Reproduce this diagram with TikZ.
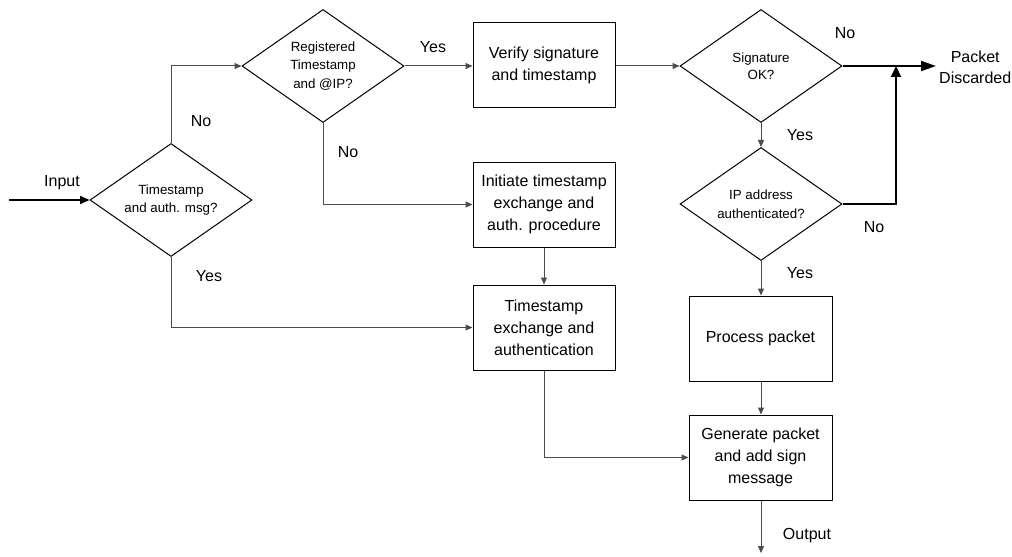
\documentclass[tikz,border=0pt]{standalone}
\usepackage{fontspec}
\setmainfont{Liberation Sans}
\usetikzlibrary{shapes.geometric,arrows.meta}
\begin{document}
\begin{tikzpicture}[x=0.75pt,y=-0.75pt,
  box/.style={draw=black, line width=0.75pt, minimum width=106.5pt,
    minimum height=63.75pt, align=center, inner sep=0pt,
    font=\fontsize{12}{16.5}\selectfont},
  decision/.style={draw=black, line width=0.75pt, shape=diamond, aspect=1.43,
    minimum width=121.5pt, minimum height=84.75pt, inner sep=0pt,
    align=center, font=\fontsize{10}{13.9}\selectfont},
  lbl/.style={inner sep=0pt, align=center, font=\fontsize{12}{15.5}\selectfont},
  conn/.style={draw=black!70, line width=0.75pt,
    -{Triangle[length=5.25pt,width=4.5pt]}},
  heavy/.style={draw=black, line width=1.5pt},
]
\useasboundingbox[fill=white] (0,0) rectangle (1012,556);

% decisions
\node[decision] (d1) at (171,200) {Timestamp\\and auth. msg?};
\node[decision] (d2) at (323,66) {Registered\\Timestamp\\and @IP?};
\node[decision] (d3) at (761,66) {\raisebox{-6pt}{\shortstack{Signature\\[1pt]OK?}}};
\node[decision] (d4) at (761,204) {IP address\\authenticated?};

% process boxes
\node[box] (verify) at (544,65.5) {Verify signature\\and timestamp};
\node[box] (init) at (544,204.5) {Initiate timestamp\\exchange and\\auth. procedure};
\node[box] (tex) at (544,327.5) {Timestamp\\exchange and\\authentication};
\node[box, minimum width=107.25pt] (proc) at (760.5,338.5) {Process packet};
\node[box, minimum width=107.25pt] (gen) at (760.5,457.5) {Generate packet\\and add sign\\message};

% terminal texts and free ends
\node[lbl, anchor=east] (disc) at (1011.5,67) {Packet\\Discarded};
\coordinate (in) at (9,200);
\coordinate (out) at (761,553);
\coordinate (merge) at (896,66);
\coordinate (dtip) at (936,66);

% connectors
\draw[draw=black, line width=1.1pt, -{Triangle[length=7pt,width=6pt]}] (in) -- (d1.west);
\draw[conn] (d1.north) |- (d2.west);
\draw[conn] (d1.south) |- (tex.west);
\draw[conn] (d2.east) -- (d2.east -| verify.west);
\draw[conn] (d2.south) |- (init.west);
\draw[conn] (init.south) -- (tex.north);
\draw[conn] (tex.south) |- (gen.west);
\draw[conn] (verify.east |- d3.west) -- (d3.west);
\draw[conn] (d3.south) -- (d4.north);
\draw[conn] (d4.south) -- (proc.north -| d4.south);
\draw[conn] (proc.south -| d4.south) -- (gen.north -| d4.south);
\draw[conn] (gen.south -| d4.south) -- (out);
\draw[heavy, -{Triangle[length=11.25pt,width=7.5pt]}] (d3.east) -- (dtip);
\draw[heavy, -{Triangle[length=8.25pt,width=7.5pt]}] (d4.east) -| (merge);

% branch labels
\node[lbl] (lin) at (62,183) {Input};
\node[lbl] (l1no) at (201,121) {No};
\node[lbl] (l1yes) at (209,276) {Yes};
\node[lbl] (l2yes) at (433,47) {Yes};
\node[lbl] (l2no) at (348,152) {No};
\node[lbl] (l3no) at (845,33) {No};
\node[lbl] (l3yes) at (800,135) {Yes};
\node[lbl] (l4no) at (874,227) {No};
\node[lbl] (l4yes) at (800,273) {Yes};
\node[lbl] (lout) at (807,536) {Output};
\end{tikzpicture}
\end{document}
